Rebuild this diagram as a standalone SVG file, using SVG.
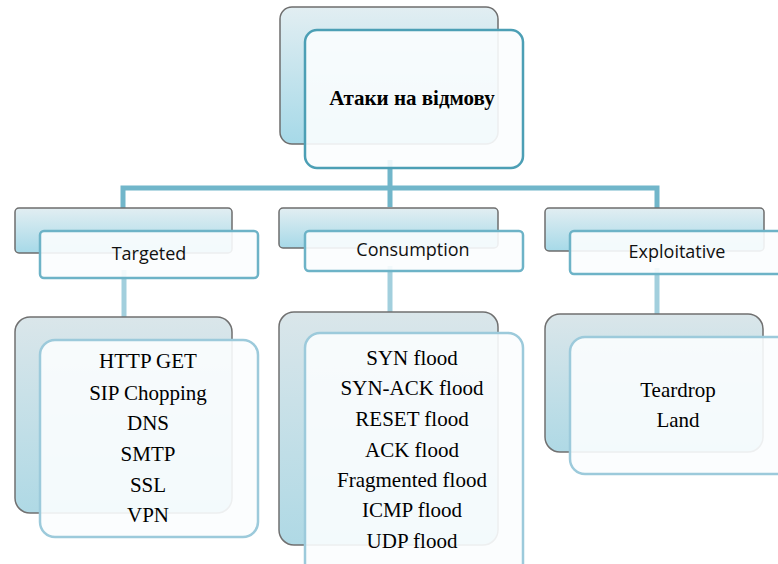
<svg xmlns="http://www.w3.org/2000/svg" width="778" height="564" viewBox="0 0 778 564">
<defs>
<linearGradient id="bg" x1="0" y1="0" x2="0" y2="1">
<stop offset="0" stop-color="#e2eef2"/>
<stop offset="1" stop-color="#a6d9e8"/>
</linearGradient>
<linearGradient id="bg2" x1="0" y1="0" x2="0" y2="1">
<stop offset="0" stop-color="#dae6ea"/>
<stop offset="1" stop-color="#afd9e5"/>
</linearGradient>
</defs>
<style>
.back{fill:url(#bg);stroke:#6e6e6e;stroke-width:1.5}
.back2{fill:url(#bg2);stroke:#707070;stroke-width:1.5}
.front{fill:#fbfdfe;fill-opacity:0.9;stroke:#6db3c7;stroke-width:2.5}
.front2{fill:#fbfdfe;fill-opacity:0.9;stroke:#9ccadb;stroke-width:2.5}
.ftop{fill:#fbfdfe;fill-opacity:0.9;stroke:#4c9fb5;stroke-width:2.5}
.conn{stroke:#71b6ca;stroke-width:5;fill:none}
.conn2{stroke:#a2cfdd;stroke-width:5;fill:none}
.t1{font-family:"Liberation Serif",serif;font-weight:bold;font-size:21px;fill:#000;text-anchor:middle}
.t2{font-family:"Open Sans","Noto Sans",sans-serif;font-size:18px;fill:#111;text-anchor:middle}
.t3{font-family:"Liberation Serif",serif;font-size:21px;fill:#000;text-anchor:middle}
</style>
<g id="connectors">
<path class="conn" d="M390 160 V207 M123 210 V188 H657 V210"/>
<path class="conn2" d="M124 270 V318 M390 266 V314 M657 268 V316"/>
</g>
<g id="root">
<rect class="back" x="280" y="7" width="218" height="137" rx="12"/>
<rect class="ftop" x="305" y="30" width="218" height="138" rx="12"/>
<text class="t1" x="412" y="105">Атаки на відмову</text>
</g>
<g id="targeted">
<rect class="back" x="15" y="208" width="217" height="45" rx="4"/>
<rect class="front" x="40" y="231" width="218" height="47" rx="4"/>
<text class="t2" x="149" y="260">Targeted</text>
</g>
<g id="consumption">
<rect class="back" x="279" y="208" width="219" height="40" rx="4"/>
<rect class="front" x="305" y="231" width="218" height="40" rx="4"/>
<text class="t2" x="413" y="256">Consumption</text>
</g>
<g id="exploitative">
<rect class="back" x="545" y="208" width="219" height="43" rx="4"/>
<rect class="front" x="570" y="231" width="220" height="43" rx="4"/>
<text class="t2" x="677" y="258">Exploitative</text>
</g>
<g id="targeted-list">
<rect class="back2" x="15" y="317" width="217" height="196" rx="15"/>
<rect class="front2" x="40" y="340" width="218" height="197" rx="15"/>
<text class="t3" x="148" y="368">HTTP GET</text>
<text class="t3" x="148" y="400">SIP Chopping</text>
<text class="t3" x="148" y="430">DNS</text>
<text class="t3" x="148" y="461">SMTP</text>
<text class="t3" x="148" y="492">SSL</text>
<text class="t3" x="148" y="522">VPN</text>
</g>
<g id="consumption-list">
<rect class="back2" x="279" y="312" width="219" height="233" rx="15"/>
<rect class="front2" x="305" y="333" width="218" height="245" rx="15"/>
<text class="t3" x="412" y="365">SYN flood</text>
<text class="t3" x="412" y="395">SYN-ACK flood</text>
<text class="t3" x="412" y="426">RESET flood</text>
<text class="t3" x="412" y="457">ACK flood</text>
<text class="t3" x="412" y="487">Fragmented flood</text>
<text class="t3" x="412" y="517">ICMP flood</text>
<text class="t3" x="412" y="548">UDP flood</text>
</g>
<g id="exploitative-list">
<rect class="back2" x="545" y="314" width="218" height="138" rx="15"/>
<rect class="front2" x="570" y="337" width="222" height="137" rx="15"/>
<text class="t3" x="678" y="397">Teardrop</text>
<text class="t3" x="678" y="427">Land</text>
</g>
</svg>
